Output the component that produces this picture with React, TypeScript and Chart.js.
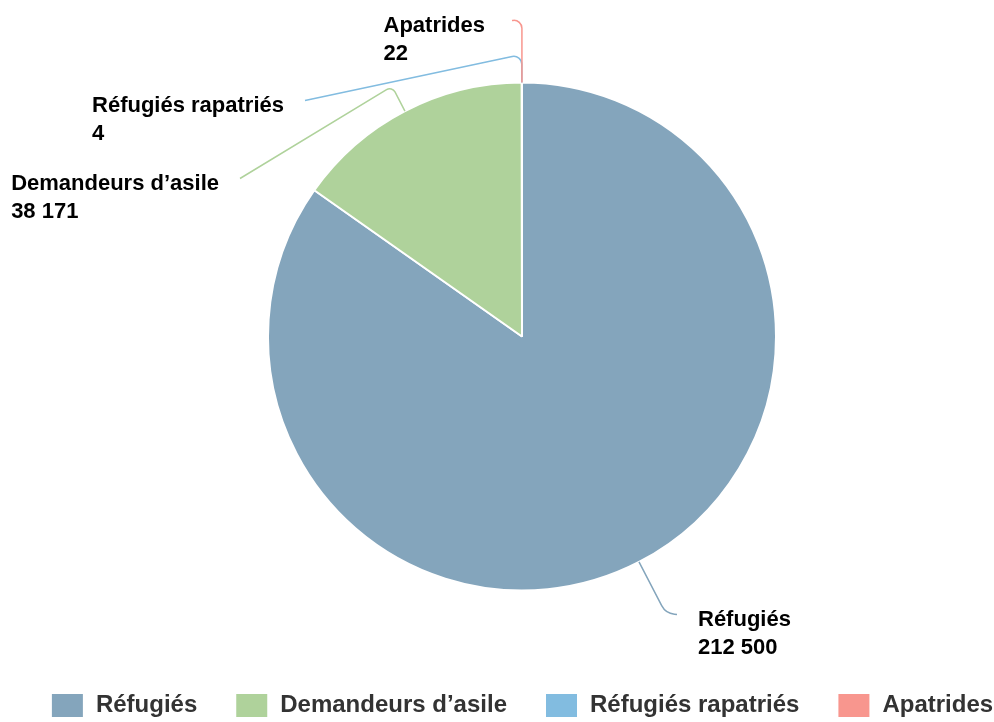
import React, { useEffect, useRef } from "react";
import { Chart, registerables } from "chart.js";

Chart.register(...registerables);

const categories = ["Réfugiés", "Demandeurs d’asile", "Réfugiés rapatriés", "Apatrides"];
const values = [212500, 38171, 4, 22];
const colors = ["#84A5BC", "#AFD29B", "#82BCE0", "#F8968E"];

// label placement: radial leader length, end point offset from pie centre, corner radius, text gap
const labelLayout = [
  { len: 58, dx: 155, dy: 278, corner: 16, gap: 21 },
  { len: 28, dx: -282, dy: -158, corner: 6, gap: 21 },
  { len: 28, dx: -217, dy: -236, corner: 8, gap: 21 },
  { len: 63, dx: -10, dy: -316, corner: 8, gap: 27 },
];

const FONT = "'Liberation Sans', Arial, Helvetica, sans-serif";

function formatNumber(n: number): string {
  return String(n).replace(/\B(?=(\d{3})+(?!\d))/g, " ");
}

const pieLabels = {
  id: "pieLabels",
  afterDatasetsDraw(chart: any) {
    const ctx = chart.ctx;
    const meta = chart.getDatasetMeta(0);
    ctx.save();
    meta.data.forEach((arc: any, i: number) => {
      const { x, y, startAngle, endAngle, outerRadius } = arc.getProps(
        ["x", "y", "startAngle", "endAngle", "outerRadius"],
        true
      );
      const lay = labelLayout[i];
      const mid = (startAngle + endAngle) / 2;
      const cos = Math.cos(mid);
      const sin = Math.sin(mid);
      const p0x = x + outerRadius * cos;
      const p0y = y + outerRadius * sin;
      const bx = p0x + lay.len * cos;
      const by = p0y + lay.len * sin;
      const ex = x + lay.dx;
      const ey = y + lay.dy;
      ctx.beginPath();
      ctx.moveTo(p0x, p0y);
      ctx.arcTo(bx, by, ex, ey, lay.corner);
      ctx.lineTo(ex, ey);
      ctx.strokeStyle = colors[i];
      ctx.lineWidth = 1.5;
      ctx.stroke();

      ctx.font = `bold 22px ${FONT}`;
      ctx.fillStyle = "#000";
      ctx.textBaseline = "middle";
      ctx.textAlign = "left";
      const lines = [categories[i], formatNumber(values[i])];
      const w = Math.max(...lines.map((l) => ctx.measureText(l).width));
      const left = ex >= x ? ex + lay.gap : ex - lay.gap - w;
      lines.forEach((l, k) => {
        ctx.fillText(l, left, ey + 5 + k * 28);
      });
    });
    ctx.restore();
  },
};

export default function App() {
  const ref = useRef<HTMLCanvasElement>(null);
  useEffect(() => {
    document.body.style.margin = "0";
    document.body.style.overflow = "hidden";
    const chart = new Chart(ref.current!, {
      type: "pie",
      data: {
        labels: categories,
        datasets: [
          {
            data: values,
            backgroundColor: colors,
            borderColor: "#ffffff",
            borderWidth: 2,
            radius: 254,
          } as any,
        ],
      },
      options: {
        responsive: false,
        animation: false,
        layout: { padding: { left: 0, top: 18, right: 0, bottom: 0 } },
        plugins: {
          tooltip: { enabled: false },
          legend: {
            position: "bottom",
            labels: {
              boxWidth: 33,
              boxHeight: 25,
              padding: 38,
              color: "#333333",
              font: { family: FONT, size: 24, weight: "bold" },
            },
          },
        },
      },
      plugins: [pieLabels],
    });
    return () => chart.destroy();
  }, []);
  return (
    <div
      style={{
        position: "fixed",
        left: 0,
        top: 0,
        width: 994,
        height: 722,
        overflow: "hidden",
        background: "#fff",
      }}
    >
      <canvas
        ref={ref}
        width={1064}
        height={728}
        style={{ display: "block", position: "absolute", left: -10, top: 0 }}
      />
    </div>
  );
}
